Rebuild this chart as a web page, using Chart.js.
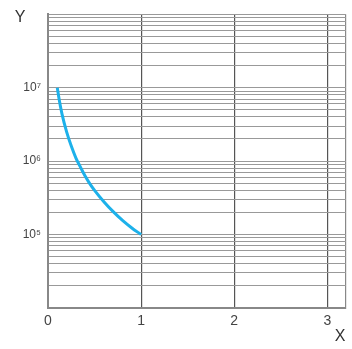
<!DOCTYPE html>
<html>
<head>
<meta charset="utf-8">
<script src="https://cdn.jsdelivr.net/npm/chart.js@4.4.1/dist/chart.umd.min.js"></script>
<style>
    html, body { margin: 0; padding: 0; background: #fff; }
    #wrap { width: 352px; height: 349px; }
</style>
</head>
<body>
<div id="wrap"><canvas id="chart"></canvas></div>
<script>
// curve values
const xValues = [0.1, 0.12, 0.15, 0.2, 0.25, 0.3, 0.35, 0.4, 0.45, 0.5, 0.6, 0.7, 0.8, 0.9, 1.0];
const yValues = [1e7, 6.9e6, 4.4e6, 2.5e6, 1.6e6, 1.1e6, 8.2e5, 6.2e5, 4.9e5, 4.0e5, 2.8e5, 2.05e5, 1.56e5, 1.23e5, 1.0e5];

// axes
const xTicks = [0, 1, 2, 3, 3.2];
const xLabels = ['0', '1', '2', '3', ''];
const yDecades = [4, 5, 6, 7];
const yMantissas = [1, 2, 3, 4, 5, 6, 7, 8, 9];
const yLabelled = { 5: '10\u2075', 6: '10\u2076', 7: '10\u2077' };

const axisTitles = {
    id: 'axisTitles',
    afterDraw(chart) {
        const ctx = chart.ctx;
        ctx.save();
        ctx.fillStyle = '#333';
        ctx.font = '16px "Liberation Sans", Arial, sans-serif';
        ctx.textAlign = 'center';
        ctx.textBaseline = 'middle';
        ctx.fillText('Y', 20, 18);
        ctx.fillText('X', 340, 337);
        ctx.restore();
    }
};

document.addEventListener('DOMContentLoaded', function() {
    const ctx = document.getElementById('chart').getContext('2d');

    new Chart(ctx, {
        type: 'line',
        data: {
            datasets: [{
                data: xValues.map((x, i) => ({ x: x, y: yValues[i] })),
                borderColor: '#1db1ea',
                borderWidth: 3,
                pointRadius: 0,
                cubicInterpolationMode: 'monotone',
                fill: false
            }]
        },
        options: {
            responsive: true,
            maintainAspectRatio: false,
            animation: false,
            layout: { padding: { top: 10, right: 6, left: 0, bottom: 0 } },
            plugins: {
                legend: { display: false },
                tooltip: { enabled: false }
            },
            scales: {
                x: {
                    type: 'linear',
                    min: 0,
                    max: 3.2,
                    afterBuildTicks: function(scale) {
                        scale.ticks = xTicks.map(v => ({ value: v }));
                    },
                    afterFit: function(scale) {
                        scale.height = 41;
                    },
                    ticks: {
                        autoSkip: false,
                        maxRotation: 0,
                        padding: 5,
                        color: '#444',
                        font: { family: '"Liberation Sans", Arial, sans-serif', size: 14 },
                        callback: function(value, index) {
                            return xLabels[index];
                        }
                    },
                    grid: {
                        drawTicks: false,
                        color: function(c) {
                            return c.tick && c.tick.value === 3.2 ? '#888' : '#555';
                        },
                        lineWidth: 1.2
                    },
                    border: { display: true, color: '#888', width: 2 }
                },
                y: {
                    type: 'logarithmic',
                    min: 1e4,
                    max: 1e8,
                    afterBuildTicks: function(scale) {
                        const ticks = [];
                        yDecades.forEach(d => {
                            yMantissas.forEach(m => ticks.push({ value: m * Math.pow(10, d) }));
                        });
                        ticks.push({ value: 1e8 });
                        scale.ticks = ticks;
                    },
                    afterFit: function(scale) {
                        scale.width = 48;
                    },
                    ticks: {
                        autoSkip: false,
                        padding: 7,
                        color: '#444',
                        font: { family: '"Liberation Sans", Arial, sans-serif', size: 12 },
                        callback: function(value) {
                            const e = Math.round(Math.log10(value));
                            if (Math.abs(Math.pow(10, e) - value) < 1e-6 * value && yLabelled[e]) {
                                return yLabelled[e];
                            }
                            return '';
                        }
                    },
                    grid: {
                        drawTicks: false,
                        color: '#999',
                        lineWidth: 1
                    },
                    border: { display: true, color: '#888', width: 2 }
                }
            }
        },
        plugins: [axisTitles]
    });
});
</script>
</body>
</html>
